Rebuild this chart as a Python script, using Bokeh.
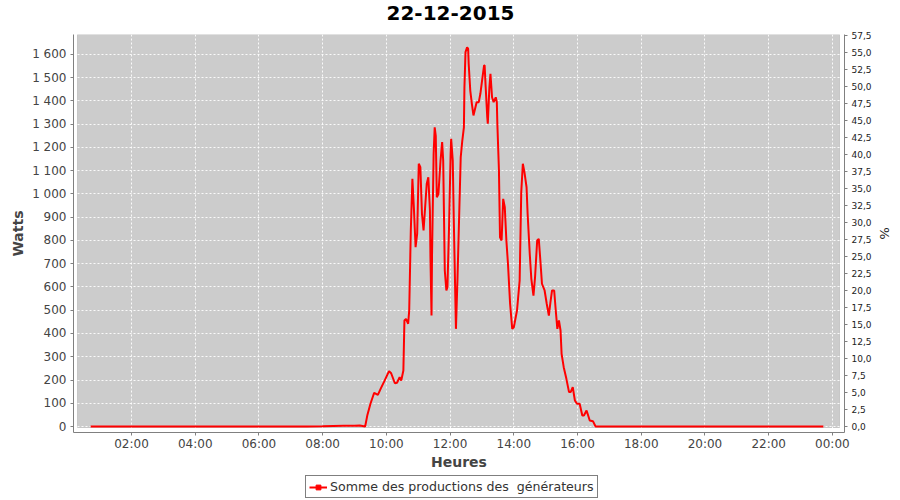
from bokeh.plotting import figure
from bokeh.models import (Range1d, LinearAxis, FixedTicker, BoxAnnotation,
                          Legend, LegendItem, Label)
from bokeh.layouts import column
from bokeh.embed import file_html
from bokeh.resources import INLINE

# ---------------- data ----------------
times = [
    "00:43", "01:00", "01:30", "02:00", "02:30", "03:00", "03:30", "04:00",
    "04:30", "05:00", "05:30", "06:00", "06:30", "07:00", "07:30", "08:00",
    "08:20", "08:40", "09:00", "09:10", "09:20",
    "09:24", "09:30", "09:37", "09:44", "09:50", "09:56", "10:05", "10:09",
    "10:16", "10:20", "10:25", "10:28", "10:32", "10:34", "10:37", "10:41",
    "10:43", "10:46", "10:49", "10:52", "10:55", "10:58", "11:01", "11:04",
    "11:07", "11:10", "11:16", "11:19", "11:22", "11:23", "11:25", "11:26",
    "11:29", "11:31", "11:33", "11:35", "11:38", "11:42", "11:45", "11:47",
    "11:50", "11:53", "11:55", "11:58", "12:01", "12:02", "12:05", "12:07",
    "12:11", "12:14", "12:20", "12:23", "12:26", "12:27", "12:29", "12:32",
    "12:34", "12:35", "12:38", "12:41", "12:44", "12:50", "12:54", "12:57",
    "13:01", "13:04", "13:05", "13:07", "13:10", "13:11", "13:14", "13:16",
    "13:19", "13:22", "13:26", "13:28", "13:29", "13:32", "13:34", "13:37",
    "13:40", "13:43", "13:46", "13:49", "13:53", "13:57", "14:00", "14:06",
    "14:11", "14:14", "14:17", "14:20", "14:24", "14:26", "14:30", "14:33",
    "14:37", "14:40", "14:44", "14:47", "14:50", "14:53", "14:58", "15:02",
    "15:06", "15:09", "15:12", "15:16", "15:19", "15:22", "15:25", "15:28",
    "15:30", "15:34", "15:39", "15:44", "15:47", "15:51", "15:55", "15:59",
    "16:04", "16:09", "16:12", "16:17", "16:19", "16:23", "16:29", "16:34",
    "17:00", "17:30", "18:00", "18:30", "19:00", "19:30", "20:00", "20:30",
    "21:00", "21:30", "22:00", "22:30", "23:00", "23:30", "23:43",
]
watts = [
    0, 0, 0, 0, 0, 0, 0, 0,
    0, 0, 0, 0, 0, 0, 0, 1,
    2, 3, 3, 4, 0,
    47, 98, 145, 136, 166, 194, 238, 229,
    186, 188, 212, 198, 241, 456, 463, 442,
    499, 843, 1065, 930, 771, 829, 1130, 1115,
    915, 843, 1044, 1072, 930, 728, 477, 743,
    1173, 1287, 1250, 986, 1000, 1144, 1223, 1144,
    671, 585, 600, 857, 1173, 1237, 1144, 886,
    420, 642, 1158, 1230, 1287, 1459, 1610, 1631,
    1624, 1560, 1445, 1388, 1338, 1395, 1395, 1431,
    1502, 1553, 1553, 1460, 1330, 1302, 1459, 1517,
    1416, 1395, 1416, 1395, 1302, 1101, 814, 800,
    979, 943, 800, 700, 528, 420, 427, 499,
    628, 1008, 1130, 1094, 1029, 915, 743, 635,
    563, 642, 800, 807, 714, 614, 585, 528,
    477, 535, 585, 585, 499, 420, 456, 413,
    312, 255, 205, 148, 148, 169, 112, 98,
    98, 47, 47, 69, 55, 26, 23, 0,
    0, 0, 0, 0, 0, 0, 0, 0,
    0, 0, 0, 0, 0, 0, 0,
]

x_ticks = [2, 4, 6, 8, 10, 12, 14, 16, 18, 20, 22, 24]
x_tick_labels = ["02:00", "04:00", "06:00", "08:00", "10:00", "12:00",
                 "14:00", "16:00", "18:00", "20:00", "22:00", "00:00"]
y_ticks = [0, 100, 200, 300, 400, 500, 600, 700, 800, 900, 1000, 1100,
           1200, 1300, 1400, 1500, 1600]
y_tick_labels = ["0", "100", "200", "300", "400", "500", "600", "700", "800",
                 "900", "1\u00a0000", "1\u00a0100", "1\u00a0200", "1\u00a0300",
                 "1\u00a0400", "1\u00a0500", "1\u00a0600"]
pct_ticks = [0, 2.5, 5, 7.5, 10, 12.5, 15, 17.5, 20, 22.5, 25, 27.5, 30,
             32.5, 35, 37.5, 40, 42.5, 45, 47.5, 50, 52.5, 55, 57.5]
pct_tick_labels = ["0,0", "2,5", "5,0", "7,5", "10,0", "12,5", "15,0", "17,5",
                   "20,0", "22,5", "25,0", "27,5", "30,0", "32,5", "35,0",
                   "37,5", "40,0", "42,5", "45,0", "47,5", "50,0", "52,5",
                   "55,0", "57,5"]
title_text = "22-12-2015"
legend_label = "Somme des productions des  générateurs"

# ---------------- layout constants ----------------
X_MIN, X_MAX = 0.179, 24.38
Y_MIN, Y_MAX = -25.8, 1686.0
PCT_RATIO = 29.25
FRAME_W, FRAME_H = 771, 398
W = 900
FRAME_L, FRAME_R = 73, 844          # page x of the frame edges
TITLE_H = 28
MAIN_H = 444
LEGEND_H = 500 - TITLE_H - MAIN_H


def to_hours(t):
    h, m = t.split(":")
    return int(h) + int(m) / 60.0


hours = [to_hours(t) for t in times]


def blank(fig):
    fig.axis.visible = False
    fig.grid.visible = False
    fig.outline_line_color = None
    fig.min_border_left = FRAME_L
    fig.min_border_right = W - FRAME_R
    fig.min_border_top = fig.min_border_bottom = 0


# ---------------- title strip ----------------
pt = figure(width=W, height=TITLE_H, output_backend="svg",
            toolbar_location=None, x_range=Range1d(FRAME_L, FRAME_R),
            y_range=Range1d(0, TITLE_H))
blank(pt)
pt.add_layout(Label(x=450, y=TITLE_H - 12, text=title_text,
                    text_align="center", text_baseline="middle",
                    text_font="DejaVu Sans", text_font_size="20px",
                    text_font_style="bold", text_color="black"))

# ---------------- main chart ----------------
p = figure(width=W, height=MAIN_H, output_backend="svg",
           toolbar_location=None,
           x_range=Range1d(X_MIN, X_MAX), y_range=Range1d(Y_MIN, Y_MAX),
           min_border_left=FRAME_L, min_border_right=W - FRAME_R,
           min_border_top=6, min_border_bottom=MAIN_H - 6 - FRAME_H,
           background_fill_color="white", border_fill_color="white")
p.outline_line_color = None
p.extra_y_ranges = {"pct": Range1d(Y_MIN / PCT_RATIO, Y_MAX / PCT_RATIO)}

pxh = FRAME_W / (X_MAX - X_MIN)
pxw = FRAME_H / (Y_MAX - Y_MIN)
bg = BoxAnnotation(left=X_MIN + 4 / pxh, right=X_MAX - 5 / pxh,
                   bottom=Y_MIN + 5 / pxw, top=Y_MAX,
                   fill_color="#cccccc", fill_alpha=1.0,
                   line_color="#808080", line_width=1, level="image")
p.add_layout(bg)

p.xaxis.ticker = FixedTicker(ticks=x_ticks)
p.xaxis.major_label_overrides = dict(zip(x_ticks, x_tick_labels))
p.xaxis.axis_label = "Heures"
p.yaxis.ticker = FixedTicker(ticks=y_ticks)
p.yaxis.major_label_overrides = dict(zip(y_ticks, y_tick_labels))
p.yaxis.axis_label = "Watts"

right = LinearAxis(y_range_name="pct", axis_label="%",
                   ticker=FixedTicker(ticks=pct_ticks),
                   major_label_overrides=dict(zip(pct_ticks, pct_tick_labels)))
p.add_layout(right, "right")

for ax in [p.xaxis[0], p.yaxis[0], right]:
    ax.axis_line_color = "#808080"
    ax.major_tick_line_color = "#808080"
    ax.major_tick_out = 3
    ax.major_tick_in = 0
    ax.minor_tick_line_color = None
    ax.major_label_text_font = "DejaVu Sans"
    ax.major_label_text_font_size = "12px"
    ax.major_label_text_color = "#444444"
    ax.major_label_standoff = 4
    ax.axis_label_text_font = "DejaVu Sans"
    ax.axis_label_text_font_size = "14px"
    ax.axis_label_text_font_style = "bold"
    ax.axis_label_text_color = "#444444"
    ax.axis_label_standoff = 3

right.major_label_text_font_size = "9px"
right.major_label_text_color = "#222222"
right.axis_label_text_font_style = "normal"
right.axis_label_text_font_size = "13px"
right.axis_label_text_color = "#222222"
right.axis_label_standoff = 2

p.xaxis.major_label_standoff = 1
p.xaxis.axis_label_standoff = 0

p.xgrid.ticker = FixedTicker(ticks=x_ticks)
p.ygrid.ticker = FixedTicker(ticks=y_ticks)
for g in [p.xgrid[0], p.ygrid[0]]:
    g.grid_line_color = "white"
    g.grid_line_dash = "2 2"
    g.grid_line_alpha = 0.9
    g.grid_line_width = 1

p.line(hours, watts, line_color="#ff0000", line_width=2)

# ---------------- legend strip ----------------
pl = figure(width=W, height=LEGEND_H, output_backend="svg",
            toolbar_location=None, x_range=Range1d(0, 1),
            y_range=Range1d(0, 1))
blank(pl)
# legend-only renderers, kept outside the visible range
lr = pl.line([-5, -4], [-5, -4], line_color="#ff0000", line_width=2)
lm = pl.scatter([-5], [-5], marker="square", size=3, color="#ff0000")
legend = Legend(items=[LegendItem(label=legend_label, renderers=[lr, lm])],
                location=(305 - FRAME_L, 2), orientation="horizontal",
                border_line_color="black", border_line_width=1,
                label_text_font="DejaVu Sans", label_text_font_size="12.6px",
                label_text_color="#333333", glyph_width=18, glyph_height=12,
                padding=3, margin=0, spacing=0, label_standoff=3,
                background_fill_color="white", background_fill_alpha=1.0)
pl.add_layout(legend)

layout = column(pt, p, pl, spacing=0)
open("out.html", "w").write(file_html(layout, INLINE))
